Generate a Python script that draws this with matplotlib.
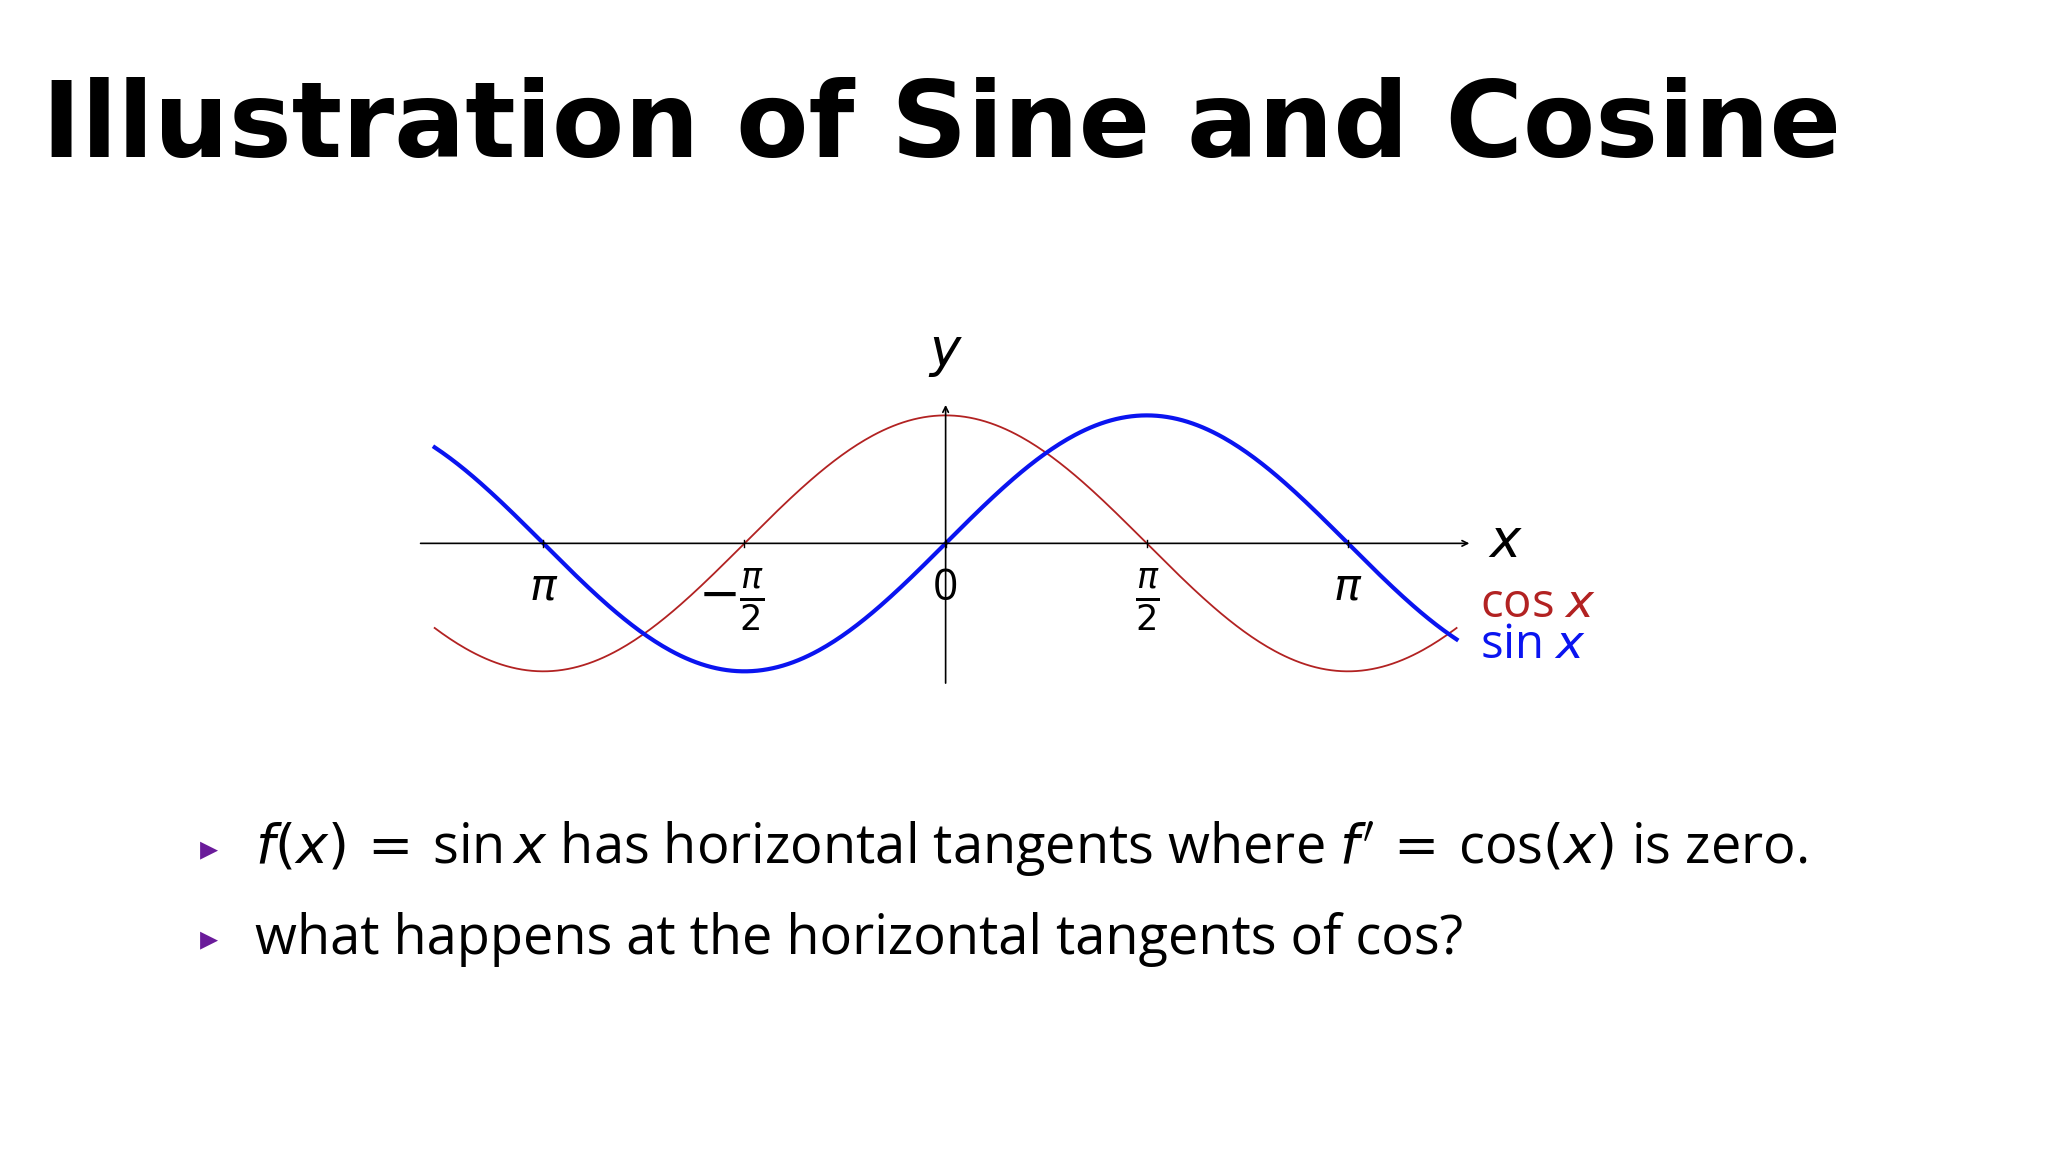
import numpy as np
import matplotlib
matplotlib.use("Agg")
import matplotlib.pyplot as plt

# data
x_start, x_end = -3.99, 3.99
x_vals = np.linspace(x_start, x_end, 400)
sin_vals = np.sin(x_vals)
cos_vals = np.cos(x_vals)
tick_pos = [-np.pi, -np.pi/2, 0, np.pi/2, np.pi]
tick_labels = [r"$\pi$", r"$-\frac{\pi}{2}$", "0", r"$\frac{\pi}{2}$", r"$\pi$"]
title = "Illustration of Sine and Cosine"
bullets = [r"$f(x)\,=\,$sin$\,x$ has horizontal tangents where $f'\,=\,$cos$(x)$ is zero.",
           "what happens at the horizontal tangents of cos?"]

W, H = 1568, 882
fig = plt.figure(figsize=(20.48, 11.52), dpi=100)
fig.patch.set_facecolor("white")
plt.rcParams['mathtext.fontset'] = 'dejavusans'

fig.text(32/W, 1-120/H, title, fontsize=76, fontweight="bold", family="DejaVu Sans", ha="left", va="baseline")

ax = fig.add_axes([322/W, 1-523/H, (1125-322)/W, 213/H])
ax.set_xlim(-4.100, 4.090)
ax.set_ylim(-1.092, 1.082)
ax.axis("off")
ax.plot(x_vals, cos_vals, color="#b22222", lw=1.3)
ax.plot(x_vals, sin_vals, color="#0a14f0", lw=3.0)
ax.annotate("", xy=(4.09, 0), xytext=(-4.1, 0), arrowprops=dict(arrowstyle="->", lw=1.2, color="black", shrinkA=0, shrinkB=0))
ax.annotate("", xy=(0, 1.082), xytext=(0, -1.092), arrowprops=dict(arrowstyle="->", lw=1.2, color="black", shrinkA=0, shrinkB=0))
for p, lab in zip(tick_pos, tick_labels):
    ax.plot([p, p], [-0.03, 0.03], color="black", lw=1)
    ax.text(p if p != -np.pi/2 else p - 0.1, -0.18, lab, fontsize=36 if "frac" in lab else 32,
            ha="center", va="top", family="Open Sans")
fig.text(1153/W, 1-415/H, r"$x$", fontsize=38, ha="center", va="center")
fig.text(724/W, 1-270/H, r"$y$", fontsize=38, ha="center", va="center")
fig.text(1133/W, 1-463/H, r"cos $x$", fontsize=34, color="#b22222", ha="left", va="center", family="Open Sans")
fig.text(1133/W, 1-494/H, r"sin $x$", fontsize=34, color="#0a14f0", ha="left", va="center", family="Open Sans")

for i, b in enumerate(bullets):
    y = 1 - (650 + 69*i)/H
    fig.text(160/W, y, "\u25B8", fontsize=26, color="#6a1b9a", ha="center", va="center", family="DejaVu Sans")
    fig.text(195/W, y, b, fontsize=39, ha="left", va="center", family="Open Sans")

fig.savefig("out.png", dpi=100, facecolor="white")
